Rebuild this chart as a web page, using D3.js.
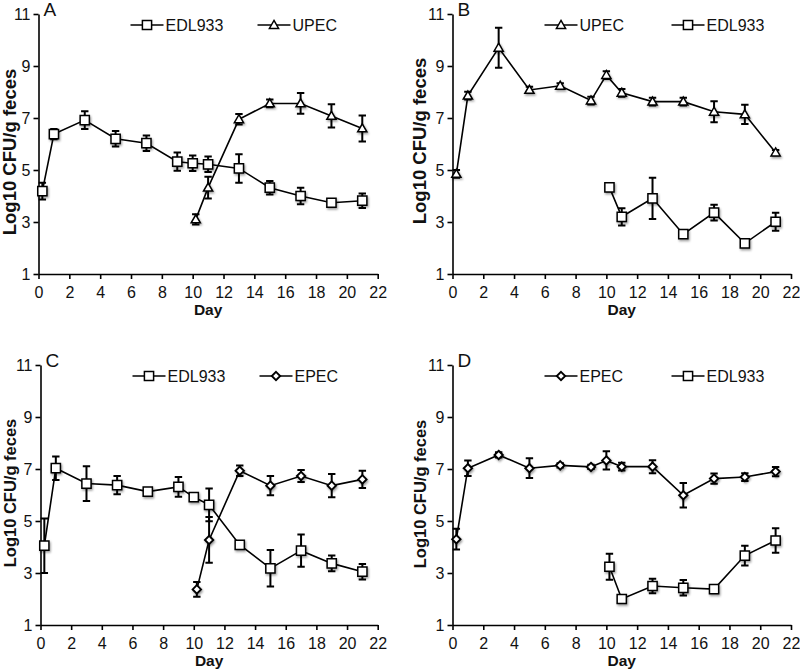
<!DOCTYPE html>
<html><head><meta charset="utf-8">
<script src="https://cdn.jsdelivr.net/npm/d3@7"></script>
<style>
body{margin:0;background:#fff}
svg{display:block}
text{font-family:"Liberation Sans",Arial,Helvetica,sans-serif;fill:#111}
</style>
</head><body><svg id="c" width="800" height="669"></svg>
<script>
// ---------- data ----------
const xTicks = [0, 2, 4, 6, 8, 10, 12, 14, 16, 18, 20, 22];
const yTicks = [1, 3, 5, 7, 9, 11];
const daysFull = [0.25, 1, 3, 5, 7, 9, 10, 11, 13, 15, 17, 19, 21];
const daysLate = [10.2, 11, 13, 15, 17, 19, 21];

const A_EDL933 = [4.19, 6.38, 6.92, 6.2, 6.03, 5.32, 5.26, 5.22, 5.06, 4.32, 4.0, 3.74, 3.82];
const A_EDL933_err = [0.32, 0.2, 0.34, 0.3, 0.3, 0.35, 0.3, 0.3, 0.55, 0.26, 0.32, 0.08, 0.28];
const A_UPEC = [3.1, 4.32, 6.95, 7.56, 7.56, 7.08, 6.6];
const A_UPEC_err = [0.2, 0.42, 0.2, 0.15, 0.4, 0.45, 0.5];

const B_UPEC = [4.85, 7.86, 9.7, 8.08, 8.24, 7.67, 8.65, 7.97, 7.63, 7.63, 7.24, 7.14, 5.67];
const B_UPEC_err = [0.15, 0.15, 0.77, 0.12, 0.1, 0.15, 0.15, 0.15, 0.15, 0.15, 0.4, 0.37, 0.1];
const B_EDL933 = [4.33, 3.2, 3.91, 2.53, 3.36, 2.18, 3.01];
const B_EDL933_err = [0.15, 0.33, 0.79, 0.1, 0.3, 0.05, 0.35];

const C_EDL933 = [4.05, 7.03, 6.44, 6.38, 6.13, 6.31, 5.92, 5.62, 4.08, 3.18, 3.86, 3.37, 3.05];
const C_EDL933_err = [1.05, 0.45, 0.67, 0.35, 0.05, 0.38, 0.08, 0.63, 0.05, 0.7, 0.62, 0.3, 0.3];
const C_EPEC = [2.37, 4.27, 6.93, 6.36, 6.73, 6.36, 6.6];
const C_EPEC_err = [0.28, 0.88, 0.2, 0.37, 0.23, 0.45, 0.33];

const D_EPEC = [4.3, 7.03, 7.54, 7.03, 7.14, 7.08, 7.33, 7.09, 7.09, 5.99, 6.63, 6.69, 6.9];
const D_EPEC_err = [0.4, 0.3, 0.1, 0.38, 0.08, 0.08, 0.35, 0.15, 0.25, 0.47, 0.2, 0.15, 0.18];
const D_EDL933 = [3.24, 2.0, 2.5, 2.43, 2.38, 3.67, 4.25];
const D_EDL933_err = [0.5, 0.05, 0.28, 0.3, 0.1, 0.38, 0.47];

const panelLetters = ["A", "B", "C", "D"];
const xLabel = "Day";
const yLabel = "Log10 CFU/g feces";

// ---------- layout ----------
const panels = [
  {letter: panelLetters[0], left: 38.5, right: 377.7, top: 14, bottom: 274, titleX: 16, titleY: 152, titleSize: 18.5,
   series: [{name: "EDL933", sym: "square", days: daysFull, vals: A_EDL933, errs: A_EDL933_err},
            {name: "UPEC", sym: "triangle", days: daysLate, vals: A_UPEC, errs: A_UPEC_err}]},
  {letter: panelLetters[1], left: 452.5, right: 791, top: 14, bottom: 274, titleX: 426, titleY: 141, titleSize: 18.5,
   series: [{name: "UPEC", sym: "triangle", days: daysFull, vals: B_UPEC, errs: B_UPEC_err},
            {name: "EDL933", sym: "square", days: daysLate, vals: B_EDL933, errs: B_EDL933_err}]},
  {letter: panelLetters[2], left: 40.5, right: 377.7, top: 365, bottom: 625, titleX: 16, titleY: 493, titleSize: 16.5,
   series: [{name: "EDL933", sym: "square", days: daysFull, vals: C_EDL933, errs: C_EDL933_err},
            {name: "EPEC", sym: "diamond", days: daysLate, vals: C_EPEC, errs: C_EPEC_err}]},
  {letter: panelLetters[3], left: 452.5, right: 791, top: 365, bottom: 625, titleX: 426, titleY: 494, titleSize: 16.5,
   series: [{name: "EPEC", sym: "diamond", days: daysFull, vals: D_EPEC, errs: D_EPEC_err},
            {name: "EDL933", sym: "square", days: daysLate, vals: D_EDL933, errs: D_EDL933_err}]}
];

const symPath = {
  square: "M-4.6,-4.6H4.6V4.6H-4.6Z",
  triangle: "M0,-4.6L4.6,3.4H-4.6Z",
  diamond: "M0,-4.2L4.2,0L0,4.2L-4.2,0Z"
};
const symStroke = {square: 1.5, triangle: 1.5, diamond: 1.9};

const svg = d3.select("#c");
const defs = svg.append("defs");
const f = defs.append("filter").attr("id", "sh").attr("x", "-50%").attr("y", "-50%").attr("width", "200%").attr("height", "200%");
f.append("feDropShadow").attr("dx", 1).attr("dy", 1.6).attr("stdDeviation", 1.3)
  .attr("flood-color", "#000").attr("flood-opacity", 0.4);

panels.forEach(p => {
  const g = svg.append("g");
  const x = d3.scaleLinear().domain([0, 22]).range([p.left, p.right]);
  const y = d3.scaleLinear().domain([1, 11]).range([p.bottom, p.top]);

  // axes
  const ya = g.append("g").attr("transform", `translate(${p.left},0)`)
    .call(d3.axisLeft(y).tickValues(yTicks).tickSize(5).tickSizeOuter(0).tickPadding(3));
  const xa = g.append("g").attr("transform", `translate(0,${p.bottom})`)
    .call(d3.axisBottom(x).tickValues(xTicks).tickSize(5).tickSizeOuter(0).tickPadding(7.2));
  [ya, xa].forEach(a => {
    a.select(".domain").attr("stroke", "#000").attr("stroke-width", 1.6);
    a.selectAll(".tick line").attr("stroke", "#000").attr("stroke-width", 1.6);
    a.selectAll(".tick text").attr("font-size", 16).attr("font-family", null).attr("fill", "#111");
  });

  // labels
  g.append("text").attr("x", (p.left + p.right) / 2).attr("y", p.bottom + 41)
    .attr("text-anchor", "middle").attr("font-weight", "bold").attr("font-size", 15.5).text(xLabel);
  g.append("text").attr("transform", `translate(${p.titleX},${p.titleY}) rotate(-90)`)
    .attr("text-anchor", "middle").attr("font-weight", "bold").attr("font-size", p.titleSize).text(yLabel);
  g.append("text").attr("x", p.left + 5).attr("y", p.top + 1.5)
    .attr("font-size", 19).text(p.letter);

  const line = d3.line().x(d => x(d.d)).y(d => y(d.v));
  const pts = p.series.map(s => s.days.map((d, i) => ({d, v: s.vals[i], e: s.errs[i]})));

  // lines
  pts.forEach(arr => {
    g.append("path").datum(arr).attr("d", line).attr("fill", "none")
      .attr("stroke", "#000").attr("stroke-width", 1.6);
  });
  // error bars
  pts.forEach(arr => {
    const eb = g.append("g").attr("stroke", "#000").attr("stroke-width", 2).attr("fill", "none");
    eb.selectAll("path").data(arr).join("path")
      .attr("d", d => {
        const cx = x(d.d), y1 = y(d.v + d.e), y2 = y(d.v - d.e), w = 3.7;
        return `M${cx - w},${y1}H${cx + w}M${cx},${y1}V${y2}M${cx - w},${y2}H${cx + w}`;
      });
  });
  // markers
  pts.forEach((arr, si) => {
    const s = p.series[si];
    g.append("g").attr("filter", "url(#sh)").selectAll("path").data(arr).join("path")
      .attr("transform", d => `translate(${x(d.d)},${y(d.v)})`)
      .attr("d", symPath[s.sym]).attr("fill", "#fff").attr("stroke", "#000")
      .attr("stroke-width", symStroke[s.sym]);
  });

  // legend
  const ly = p.top + 11;
  const items = [{off: 92, s: p.series[0]}, {off: 219, s: p.series[1]}];
  items.forEach(it => {
    const lx = p.left + it.off;
    g.append("line").attr("x1", lx).attr("x2", lx + 33).attr("y1", ly).attr("y2", ly)
      .attr("stroke", "#000").attr("stroke-width", 1.6);
    g.append("path").attr("transform", `translate(${lx + 16.5},${ly})`)
      .attr("d", symPath[it.s.sym]).attr("fill", "#fff").attr("stroke", "#000")
      .attr("stroke-width", symStroke[it.s.sym]);
    g.append("text").attr("x", lx + 35).attr("y", ly + 6).attr("font-size", 16).text(it.s.name);
  });
});
</script>
</body></html>
